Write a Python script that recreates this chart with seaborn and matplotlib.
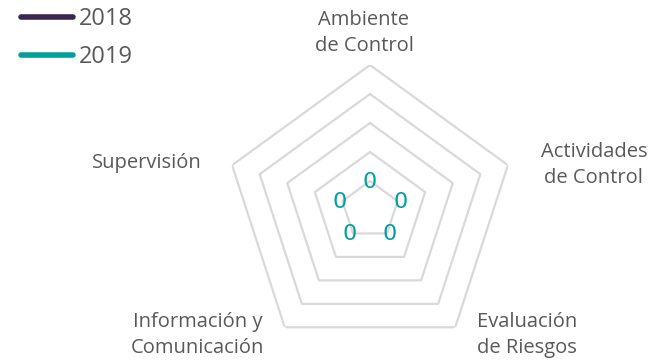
import numpy as np
import pandas as pd
from matplotlib import pyplot as plt
import seaborn as sns

categories = ['Ambiente\nde Control', 'Actividades\nde Control', 'Evaluación\nde Riesgos',
              'Información y\nComunicación', 'Supervisión']
series_names = ['2018', '2019']
values_2018 = [0, 0, 0, 0, 0]
values_2019 = [0, 0, 0, 0, 0]
grid_levels = [0, 1, 2, 3, 4]

colors = {'2018': '#3b2650', '2019': '#00a19a'}
grid_color = '#d9d9d9'
text_color = '#595959'

sns.set_theme(style='white')
plt.rcParams['font.family'] = ['Open Sans', 'DejaVu Sans']

df = pd.DataFrame({'categoria': categories, '2018': values_2018, '2019': values_2019})

fig = plt.figure(figsize=(6.68, 3.62), dpi=100)
ax = fig.add_axes([225 / 668, 7 / 362, 290 / 668, 290 / 362], projection='polar')
ax.set_theta_offset(np.pi / 2)
ax.set_theta_direction(-1)

n = len(categories)
angles = np.linspace(0, 2 * np.pi, n, endpoint=False)
closed = np.append(angles, angles[0])

# pentagon rings instead of circles
for lvl in grid_levels:
    ax.plot(closed, [lvl] * (n + 1), color=grid_color, lw=1.6, zorder=1)

for name in series_names:
    vals = df[name].tolist()
    ax.plot(closed, vals + vals[:1], color=colors[name], lw=1.6, alpha=0.0, zorder=2)

# data labels (only the last series shows), nudged a bit sideways
for a, v in zip(angles, df['2019']):
    dx = 3 * np.sign(round(np.sin(a), 3))
    ax.annotate(f'{v:g}', xy=(a, v), xytext=(dx, -1), textcoords='offset pixels',
                color=colors['2019'], fontsize=16, family='DejaVu Sans',
                ha='center', va='center', zorder=3)

ax.set_ylim(-1, 4)
ax.set_xticks([])
ax.set_yticks([])
ax.grid(False)
ax.spines['polar'].set_visible(False)
ax.set_facecolor('none')

# axis labels (offsets in pixels from the outer vertex)
label_pos = [((-6, 9), 'bottom'),
             ((86, 0), 'center'),
             ((72, -8), 'center'),
             ((-87, -8), 'center'),
             ((-85, 2), 'center')]
for a, lab, (off, va) in zip(angles, df['categoria'], label_pos):
    ax.annotate(lab, xy=(a, grid_levels[-1]), xytext=off, textcoords='offset pixels',
                ha='center', va=va, multialignment='center', fontsize=14.5, color=text_color,
                linespacing=1.4, annotation_clip=False)

handles = [plt.Line2D([], [], color=colors[s], lw=4, solid_capstyle='round') for s in series_names]
fig.legend(handles, series_names, loc='upper left', bbox_to_anchor=(0.0, 1.04), frameon=False,
           fontsize=17, handlelength=2.2, handletextpad=0.25, labelspacing=0.6,
           labelcolor=text_color)

fig.savefig('out.png', dpi=100)
